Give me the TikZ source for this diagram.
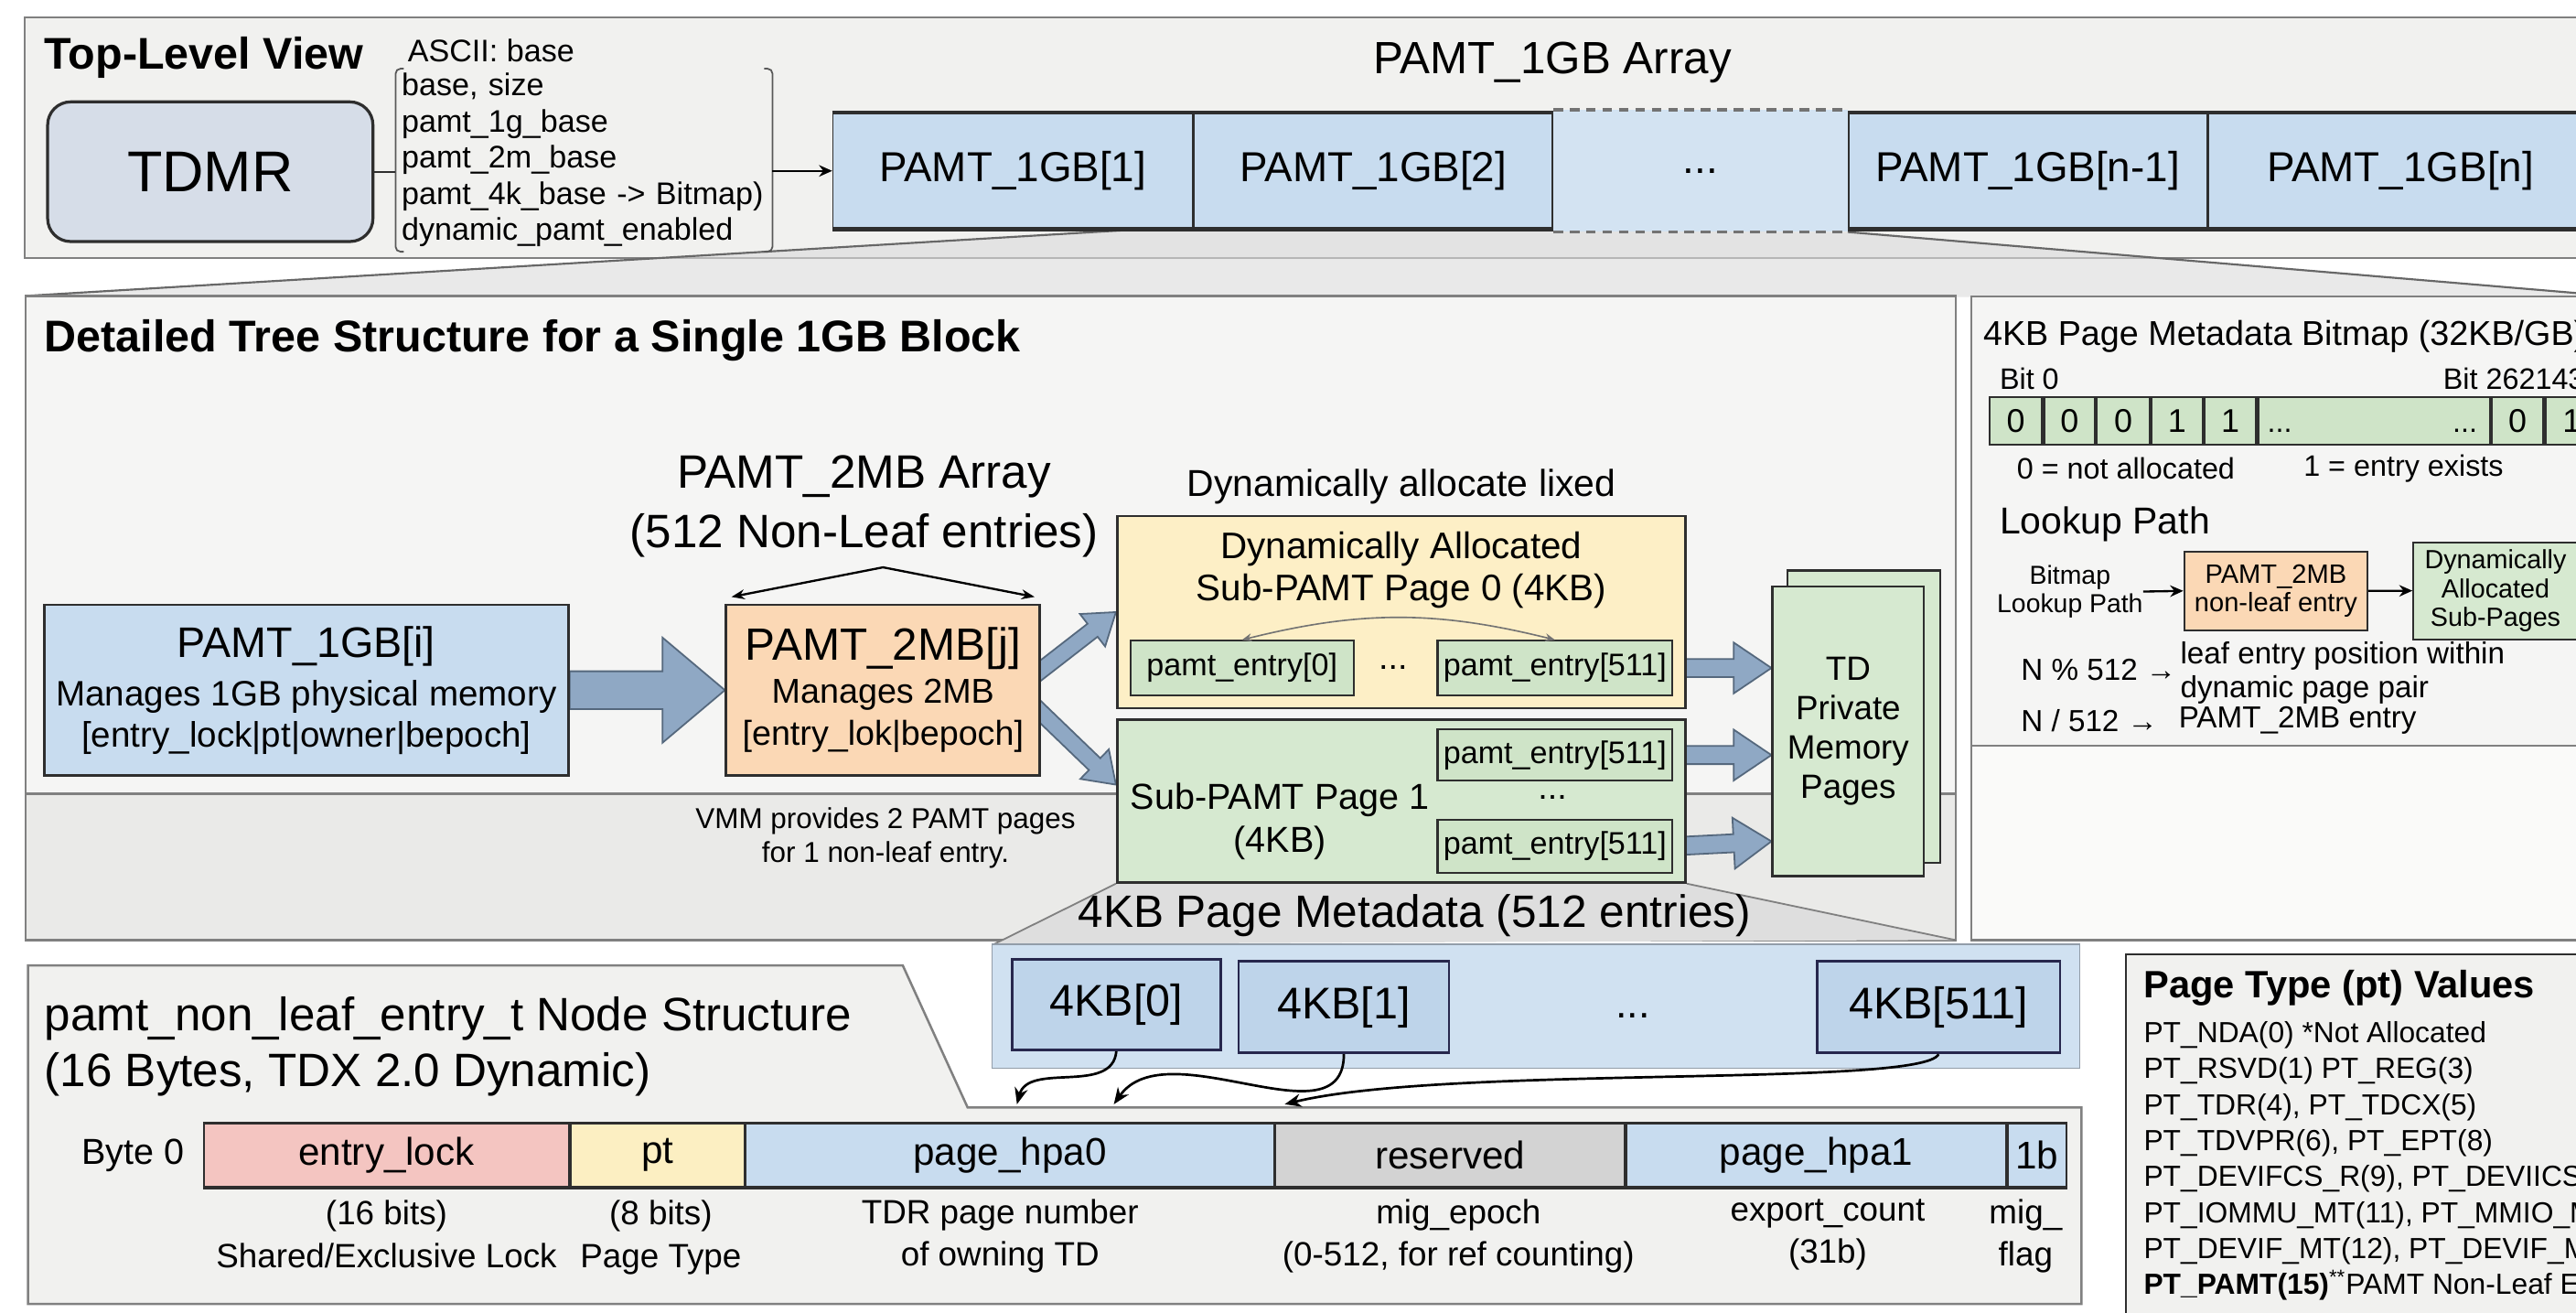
\documentclass[tikz,border=0pt]{standalone}
\usepackage{fontspec}
\setmainfont{Liberation Sans}
\usetikzlibrary{positioning,calc,arrows.meta}

\definecolor{panelgray}{HTML}{F1F1EF}
\definecolor{bandgray}{HTML}{EAEAE8}
\definecolor{panelline}{HTML}{808080}
\definecolor{darkline}{HTML}{2E2E2E}
\definecolor{cellblue}{HTML}{C8DCEF}
\definecolor{paleblue}{HTML}{D3E3F2}
\definecolor{kbblue}{HTML}{BED4EA}
\definecolor{kbpanel}{HTML}{D0E1F1}
\definecolor{tdmrgray}{HTML}{D6DDE8}
\definecolor{peach}{HTML}{FBD8B5}
\definecolor{paleyellow}{HTML}{FDEFC6}
\definecolor{palegreen}{HTML}{D6E9D0}
\definecolor{entrygreen}{HTML}{CFE4C8}
\definecolor{lockpink}{HTML}{F4C5C1}
\definecolor{ptyellow}{HTML}{FCEFC2}
\definecolor{resgray}{HTML}{D3D3D3}
\definecolor{steel}{HTML}{8FA8C4}
\definecolor{steeledge}{HTML}{55687D}

\pgfdeclarelayer{background}
\pgfdeclarelayer{arrowlayer}
\pgfsetlayers{background,arrowlayer,main}

\tikzset{
  panel/.style={fill=panelgray, draw=panelline, line width=1.4pt},
  plainbox/.style={draw=darkline, line width=1.5pt, inner sep=0pt, align=center},
  tdmrbox/.style={plainbox, fill=tdmrgray, rounded corners=14pt, line width=1.8pt,
    minimum width=198pt, minimum height=85pt, font=\fontsize{35}{40}\selectfont},
  fieldtext/.style={inner sep=0pt, align=left, font=\fontsize{19}{22}\selectfont},
  bracketline/.style={draw=darkline!80, line width=1pt, rounded corners=3pt},
  arrcell/.style={plainbox, fill=cellblue, line width=0.9pt, minimum height=70pt,
    font=\fontsize{25.5}{30}\selectfont},
  dotcell/.style={fill=paleblue, inner sep=0pt, minimum height=74pt,
    font=\fontsize{25.5}{30}\selectfont},
  bluebox/.style={plainbox, fill=cellblue},
  peachbox/.style={plainbox, fill=peach},
  yellowbox/.style={plainbox, fill=paleyellow},
  greenbox/.style={plainbox, fill=palegreen},
  entrybox/.style={plainbox, fill=entrygreen, line width=1.2pt, minimum width=143pt,
    font=\fontsize{19}{22}\selectfont},
  bitcell/.style={plainbox, fill=entrygreen, line width=1.2pt, minimum height=29pt,
    font=\fontsize{20}{24}\selectfont},
  kbbox/.style={plainbox, fill=kbblue, line width=1.5pt, draw=darkline!85!blue,
    font=\fontsize{27}{32}\selectfont},
  field/.style={draw=darkline, line width=1pt, inner sep=0pt, minimum height=38pt,
    font=\fontsize{23.5}{28}\selectfont},
  fielddesc/.style={inner sep=0pt, align=center, font=\fontsize{20.5}{26}\selectfont},
  fatarr/.style={fill=steel, draw=steeledge, line width=1pt},
  thinarrow/.style={-{Stealth[length=8pt,width=7pt]}, line width=1.3pt},
  curvearrow/.style={-{Stealth[length=10pt,width=8pt]}, line width=1.5pt},
}

% wide outlined arrow: shaft half width, head half width, head length, from, to
\newcommand{\fatarrow}[5]{%
  \draw[fatarr] ($(#4)!#1pt!90:(#5)$)
    -- ($($(#5)!#3pt!(#4)$)!#1pt!90:(#5)$)
    -- ($($(#5)!#3pt!(#4)$)!#2pt!90:(#5)$)
    -- (#5)
    -- ($($(#5)!#3pt!(#4)$)!#2pt!-90:(#5)$)
    -- ($($(#5)!#3pt!(#4)$)!#1pt!-90:(#5)$)
    -- ($(#4)!#1pt!-90:(#5)$) -- cycle;}

\begin{document}
\begin{tikzpicture}[x=1pt,y=-1pt]
\useasboundingbox (0,0) rectangle (1568,799);

% top-level view
\node[font=\bfseries\fontsize{27}{32}\selectfont, anchor=west, inner sep=0pt] (toptitle) at (27,35) {Top-Level View};
\node[tdmrbox] (tdmr) at (128,104.5) {TDMR};
\node[fieldtext, anchor=west] (ascii) at (248,31) {ASCII: base};
\node[fieldtext, text width=222pt, inner xsep=3.5pt, minimum height=111pt] (fields) at (355.5,97.5)
  {base, size\\pamt\_1g\_base\\pamt\_2m\_base\\pamt\_4k\_base -> Bitmap)\\dynamic\_pamt\_enabled};

\node[font=\fontsize{27.5}{32}\selectfont] (arrlbl) at (945,38) {PAMT\_1GB Array};
\node[arrcell, minimum width=219pt] (a1) at (616.5,104) {PAMT\_1GB[1]};
\node[arrcell, minimum width=218pt, right=0pt of a1] (a2) {PAMT\_1GB[2]};
\node[dotcell, minimum width=179pt, right=0pt of a2] (adots) {...};
\node[arrcell, minimum width=218pt, right=0pt of adots] (an1) {PAMT\_1GB[n-1]};
\node[arrcell, minimum width=234pt, right=0pt of an1] (an) {PAMT\_1GB[n]};

% tree for one 1GB block
\node[font=\bfseries\fontsize{27}{32}\selectfont, anchor=west, inner sep=0pt] (midtitle) at (27,207) {Detailed Tree Structure for a Single 1GB Block};
\node[font=\fontsize{28.5}{36}\selectfont, align=center, inner sep=0pt] (p2lbl) at (526,308) {PAMT\_2MB Array\\(512 Non-Leaf entries)};
\node[bluebox, minimum width=319pt, minimum height=104pt, font=\fontsize{21.5}{25}\selectfont] (p1gi) at (186.5,420)
  {{\fontsize{26}{30}\selectfont PAMT\_1GB[i]}\\[4.5pt]Manages 1GB physical memory\\{}[entry\_lock|pt|owner|bepoch]};
\node[peachbox, minimum width=191pt, minimum height=104pt, font=\fontsize{21}{26}\selectfont] (p2mb) at (537.5,420)
  {{\fontsize{27.5}{32}\selectfont PAMT\_2MB[j]}\\Manages 2MB\\{}[entry\_lok|bepoch]};

\node[font=\fontsize{22.8}{27}\selectfont] (dynlbl) at (853,296) {Dynamically allocate lixed};
\node[yellowbox, minimum width=346pt, minimum height=117pt] (dyn0) at (853,372.5) {};
\node[font=\fontsize{22.5}{26}\selectfont, align=center, inner sep=0pt, below=10pt of dyn0.north] (dyn0lbl) {Dynamically Allocated\\Sub-PAMT Page 0 (4KB)};
\node[entrybox, minimum width=136pt, minimum height=33pt] (e0) at (756,406.5) {pamt\_entry[0]};
\node[font=\fontsize{21}{24}\selectfont] (edots) at (848,406) {...};
\node[entrybox, minimum height=33pt] (e511a) at (946.5,406.5) {pamt\_entry[511]};

\node[greenbox, minimum width=346pt, minimum height=99pt] (sub1) at (853,487.5) {};
\node[font=\fontsize{22}{26}\selectfont, align=center, inner sep=0pt] (sub1lbl) at (779,500) {Sub-PAMT Page 1\\(4KB)};
\node[entrybox, minimum height=31pt] (e511b) at (946.5,459.5) {pamt\_entry[511]};
\node[font=\fontsize{21}{24}\selectfont] (sdots) at (945,485) {...};
\node[entrybox, minimum height=32pt] (e511c) at (946.5,515) {pamt\_entry[511]};

\node[greenbox, minimum width=93pt, minimum height=178pt] (tdback) at (1134.5,436) {};
\node[greenbox, minimum width=92pt, minimum height=176pt, font=\fontsize{20.5}{24}\selectfont] (td) at (1125,445) {TD\\Private\\Memory\\Pages};

\node[font=\fontsize{17.5}{20.5}\selectfont, align=center, inner sep=0pt] (vmmnote) at (539,510) {VMM provides 2 PAMT pages\\for 1 non-leaf entry.};
\node[font=\fontsize{27.6}{32}\selectfont] (kblbl) at (861,557) {4KB Page Metadata (512 entries)};

% bitmap and lookup path
\node[font=\fontsize{21}{25}\selectfont, anchor=west, inner sep=0pt] (bmtitle) at (1207,205) {4KB Page Metadata Bitmap (32KB/GB)};
\node[font=\fontsize{18}{21}\selectfont, anchor=west, inner sep=0pt] (bit0lbl) at (1217,230.5) {Bit 0};
\node[font=\fontsize{18}{21}\selectfont, anchor=west, inner sep=0pt] (bitnlbl) at (1487,230.5) {Bit 262143};
\node[bitcell, minimum width=32pt] (b0) at (1227,256) {0};
\node[bitcell, minimum width=31pt, right=0pt of b0] (b1) {0};
\node[bitcell, minimum width=32pt, right=0pt of b1] (b2) {0};
\node[bitcell, minimum width=31pt, right=0pt of b2] (b3) {1};
\node[bitcell, minimum width=31.5pt, right=0pt of b3] (b4) {1};
\node[bitcell, minimum width=141pt, right=0pt of b4] (bgap) {};
\node[bitcell, minimum width=31.5pt, right=0pt of bgap] (bn1) {0};
\node[bitcell, minimum width=32pt, right=0pt of bn1] (bn) {1};
\node[font=\fontsize{18}{21}\selectfont, anchor=base west, inner sep=0pt] at ($(bgap.west)+(6,7)$) {...};
\node[font=\fontsize{18}{21}\selectfont, anchor=base east, inner sep=0pt] at ($(bgap.east)+(-8,7)$) {...};
\node[font=\fontsize{18}{21}\selectfont] (zerolbl) at (1294,285) {0 = not allocated};
\node[font=\fontsize{18}{21}\selectfont] (onelbl) at (1463,285) {1 = entry exists};

\node[font=\fontsize{22.8}{27}\selectfont, anchor=west, inner sep=0pt] (looktitle) at (1217,319) {Lookup Path};
\node[font=\fontsize{15.8}{17.5}\selectfont, align=center, inner sep=0pt] (bmlook) at (1260,360) {Bitmap\\Lookup Path};
\node[peachbox, line width=1.2pt, minimum width=111.5pt, minimum height=48pt, font=\fontsize{16.2}{17.5}\selectfont] (lk2mb) at (1385.3,359.6) {PAMT\_2MB\\non-leaf entry};
\node[greenbox, line width=1.2pt, minimum width=100pt, minimum height=59pt, font=\fontsize{16}{17.5}\selectfont] (lkdyn) at (1519,359.5) {Dynamically\\Allocated\\Sub-Pages};
\node[font=\fontsize{18.5}{21}\selectfont, anchor=west, inner sep=0pt] (nmod) at (1230,407.6) {N \% 512 →};
\node[font=\fontsize{18.5}{21}\selectfont, anchor=west, align=left, inner sep=0pt] (nmodtxt) at (1327,409.5) {leaf entry position within\\dynamic page pair};
\node[font=\fontsize{18.5}{21}\selectfont, anchor=west, inner sep=0pt] (ndiv) at (1230,438.5) {N / 512 →};
\node[font=\fontsize{18.5}{21}\selectfont, anchor=west, inner sep=0pt] (ndivtxt) at (1326,438.5) {PAMT\_2MB entry};

% 4KB metadata row
\node[kbbox, minimum width=127pt, minimum height=55pt] (k0) at (679.5,611.5) {4KB[0]};
\node[kbbox, minimum width=128pt, minimum height=56pt] (k1) at (818,612.8) {4KB[1]};
\node[font=\fontsize{25}{30}\selectfont] (kdots) at (994,618) {...};
\node[kbbox, minimum width=148pt, minimum height=56pt] (k511) at (1180,612.8) {4KB[511]};

% node structure
\node[font=\fontsize{28.5}{34}\selectfont, align=left, anchor=west, inner sep=0pt] (nodetitle) at (27,637) {pamt\_non\_leaf\_entry\_t Node Structure\\(16 Bytes, TDX 2.0 Dynamic)};
\node[font=\fontsize{22}{26}\selectfont] (byte0) at (81,703) {Byte 0};
\node[field, fill=lockpink, minimum width=222.5pt] (flock) at (235.25,703) {entry\_lock};
\node[field, fill=ptyellow, minimum width=105.5pt, right=0pt of flock] (fpt) {pt};
\node[field, fill=cellblue, minimum width=321.5pt, right=0pt of fpt] (fhpa0) {page\_hpa0};
\node[field, fill=resgray, minimum width=212.5pt, right=0pt of fhpa0] (fres) {reserved};
\node[field, fill=cellblue, minimum width=231pt, right=0pt of fres] (fhpa1) {page\_hpa1};
\node[field, fill=cellblue, minimum width=36pt, right=0pt of fhpa1] (fflag) {1b};
\node[fielddesc, below=8pt of flock] (dlock) {(16 bits)\\Shared/Exclusive Lock};
\node[fielddesc, below=8pt of fpt, xshift=2pt] (dpt) {(8 bits)\\Page Type};
\node[fielddesc, below=7pt of fhpa0, xshift=-6pt] (dhpa0) {TDR page number\\of owning TD};
\node[fielddesc, below=7pt of fres, xshift=5pt] (dres) {mig\_epoch\\(0-512, for ref counting)};
\node[fielddesc, below=7pt of fhpa1, xshift=7pt] (dhpa1) {export\_count\\(31b)};
\node[fielddesc, below=7pt of fflag, xshift=-7pt] (dflag) {mig\_\\flag};

% page type legend
\node[font=\bfseries\fontsize{23.2}{27}\selectfont, anchor=west, inner sep=0pt] (pttitle) at (1304.7,601.5) {Page Type (pt) Values};
\node[font=\fontsize{17.7}{21.9}\selectfont, align=left, anchor=north west, inner sep=0pt] (ptlist) at (1304.7,621.4)
  {PT\_NDA(0) *Not Allocated\\PT\_RSVD(1) PT\_REG(3)\\PT\_TDR(4), PT\_TDCX(5)\\PT\_TDVPR(6), PT\_EPT(8)\\PT\_DEVIFCS\_R(9), PT\_DEVIICS\_NR(10)\\PT\_IOMMU\_MT(11), PT\_MMIO\_MT(12)\\PT\_DEVIF\_MT(12), PT\_DEVIF\_MT(13)\\\textbf{PT\_PAMT(15)}\textsuperscript{**}PAMT Non-Leaf Entry};

% panels behind everything
\begin{pgfonlayer}{background}
  \fill[white] (0,0) rectangle (1568,799);
  \draw[panel] (15,10.5) rectangle (1600,157);
  \fill[black!14, opacity=0.6] (17,180) -- ($(a1.south west)!0.86!(a1.south east)$) -- (adots.south east) -- (1600,181) -- cycle;
  \draw[panelline!80!black, line width=1.2pt] (17,180) -- ($(a1.south west)!0.86!(a1.south east)$);
  \draw[panelline!80!black, line width=1.2pt] (adots.south east) -- (1600,181);
  \draw[panel, fill=panelgray!70!white] (15.5,180) rectangle (1190.5,572);
  \fill[bandgray] (16.2,483) rectangle (1189.8,571.3);
  \draw[panelline, line width=1.2pt] (15.5,483) -- (1190.5,483);
  \fill[black!13] (sub1.south west) -- (sub1.south east) -- (1190,572) -- (605,574.6) -- cycle;
  \draw[panelline, line width=1pt] (sub1.south west) -- (605,574.6);
  \draw[panelline, line width=1pt] (sub1.south east) -- (1190,572);
  \draw[panel, fill=panelgray!70!white] (1200,180.5) rectangle (1600,572);
  \fill[panelgray!35!white] (1200.7,454) rectangle (1599,571.3);
  \draw[panelline, line width=1.2pt] (1200,454) -- (1600,454);
  \draw[panel] (17,587.5) -- (549.5,587.5) -- (589,674) -- (1267,674) -- (1267,793.5) -- (17,793.5) -- cycle;
  \draw[fill=kbpanel, draw=kbpanel!70!black, line width=0.8pt] (604,574.6) rectangle (1266,650);
  \draw[panel, draw=darkline, line width=1.3pt] (1294,580.7) rectangle (1600,830);
\end{pgfonlayer}

% wide arrows, under the boxes
\coordinate (dtailA) at ($(p2mb.east)+(-8,-6)$);
\coordinate (dtailB) at ($(p2mb.east)+(-8,6)$);
\coordinate (dtipB) at ($(sub1.west)+(0,-10)$);
\coordinate (tdA) at (td.west |- e511a.east);
\coordinate (tdB) at (td.west |- e511b.east);
\coordinate (tdC) at ($(td.west |- e511c.east)+(0,-3)$);
\begin{pgfonlayer}{arrowlayer}
  \fatarrow{11.5}{32}{38}{p1gi.east}{p2mb.west}
  \fatarrow{5}{12.5}{18}{dtailA}{dyn0.west}
  \fatarrow{5}{12.5}{18}{dtailB}{dtipB}
  \fatarrow{5.5}{15.5}{23}{e511a.east}{tdA}
  \fatarrow{5.5}{15.5}{23}{e511b.east}{tdB}
  \fatarrow{5.5}{15.5}{23}{e511c.east}{tdC}
\end{pgfonlayer}

% field list brackets and links
\draw[bracketline] ([xshift=5pt]fields.north west) -- (fields.north west) -- (fields.south west) -- ([xshift=5pt]fields.south west);
\draw[bracketline] ([xshift=-5pt]fields.north east) -- (fields.north east) -- (fields.south east) -- ([xshift=-5pt]fields.south east);
\draw[darkline, line width=1.2pt] (tdmr.east) -- (tdmr.east -| fields.west);
\draw[thinarrow] (fields.east |- a1.west) -- (a1.west);

% array borders
\draw[darkline, line width=2.4pt] (a1.north west) -- (a2.north east);
\draw[darkline, line width=2.4pt] (a1.south west) -- (a2.south east);
\draw[darkline, line width=2.4pt] (an1.north west) -- (an.north east);
\draw[darkline, line width=2.4pt] (an1.south west) -- (an.south east);
\draw[black!55, line width=2pt, dash pattern=on 6pt off 4pt] (adots.north west) -- (adots.north east);
\draw[black!55, line width=2pt, dash pattern=on 6pt off 4pt] (adots.south west) -- (adots.south east);

% PAMT_2MB span
\coordinate (spanL) at ($(p2mb.north west)+(4,-4)$);
\coordinate (spanR) at ($(p2mb.north east)+(-4,-4)$);
\coordinate (spanTop) at ($(p2mb.north)+(0,-22)$);
\draw[{Stealth[length=8pt,width=6pt]}-{Stealth[length=8pt,width=6pt]}, line width=1.3pt] (spanL) -- (spanTop) -- (spanR);
\draw[{Stealth[length=6pt,width=5pt]}-{Stealth[length=6pt,width=5pt]}, black!55, line width=0.9pt] (e0.north) to[bend left=14] (e511a.north);

% lookup path
\draw[thinarrow] (bmlook.east) -- (lk2mb.west);
\draw[thinarrow] (lk2mb.east) -- (lkdyn.west);

% 4KB entries down to the node structure
\coordinate (tipA) at (619,672);
\coordinate (tipB) at (678,672);
\coordinate (tipC) at (782,672);
\draw[curvearrow] (k0.south) to[out=-95,in=75] (tipA);
\draw[curvearrow] (k1.south) to[out=-90,in=55] (tipB);
\draw[curvearrow] (k511.south) .. controls (1170,662) and (880,648) .. (tipC);

% byte row borders
\draw[darkline, line width=2.2pt] (flock.north west) -- (fflag.north east);
\draw[darkline, line width=2.2pt] (flock.south west) -- (fflag.south east);

\end{tikzpicture}
\end{document}
